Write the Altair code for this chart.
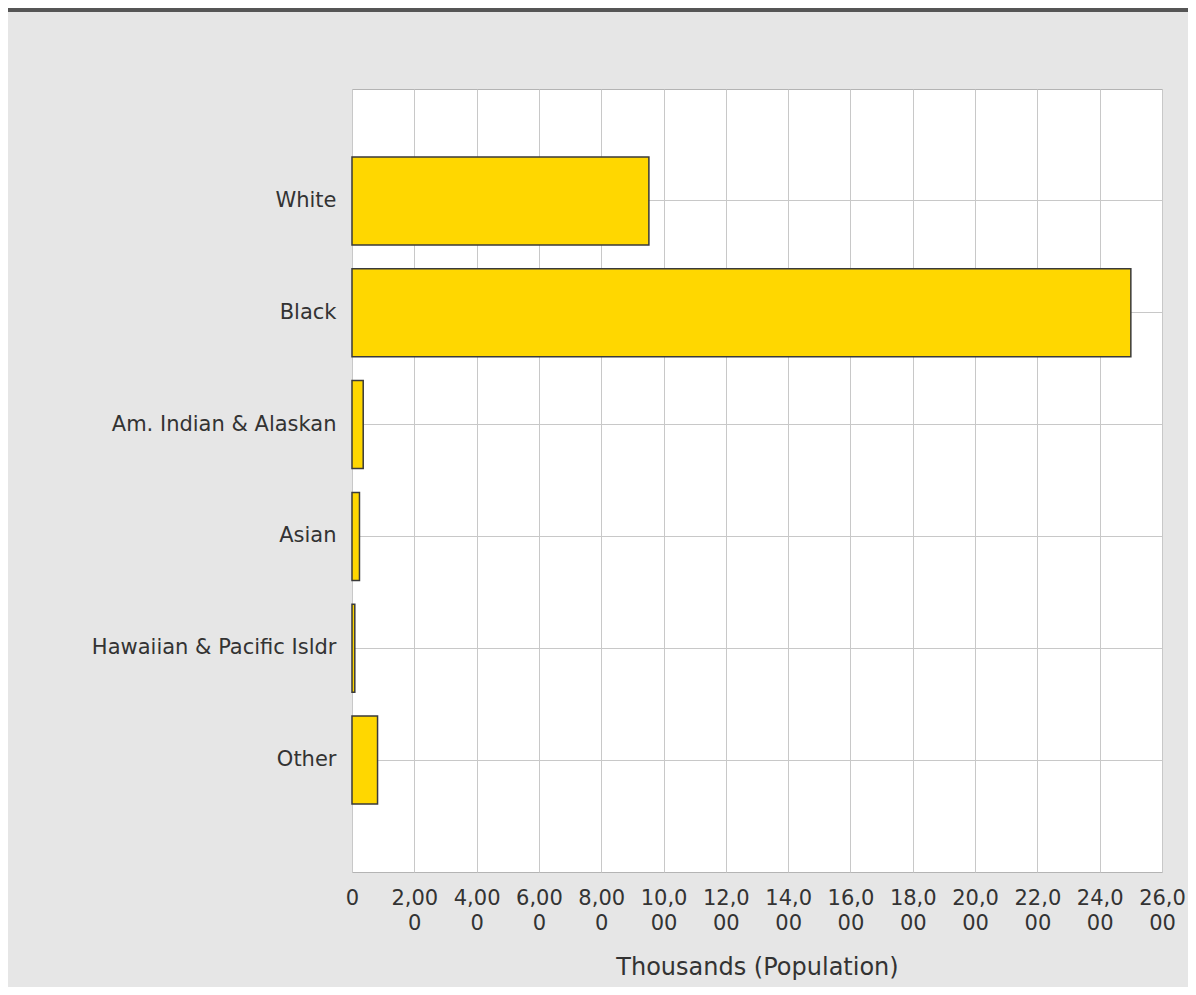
import altair as alt
import pandas as pd

categories = ["White", "Black", "Am. Indian & Alaskan", "Asian", "Hawaiian & Pacific Isldr", "Other"]
population = [9530, 25000, 360, 240, 90, 820]
x_ticks = list(range(0, 26001, 2000))

df = pd.DataFrame({"category": categories, "population": population})

FONT = "DejaVu Sans"

bars = alt.Chart(df).mark_bar(
    color="#FFD700", stroke="#3a3a3a", strokeWidth=1.5
).encode(
    x=alt.X(
        "population:Q",
        scale=alt.Scale(domain=[0, 26000], nice=False, zero=True),
        axis=alt.Axis(
            values=x_ticks,
            format=",d",
            labelExpr="[slice(datum.label, 0, 4), slice(datum.label, 4)]",
            labelLineHeight=25,
            labelFontSize=21,
            labelFont=FONT,
            labelColor="#333333",
            labelPadding=15,
            labelOverlap=False,
            labelFlush=False,
            ticks=False,
            domain=False,
            grid=True,
            gridColor="#c8c8c8",
            gridWidth=1,
            title="Thousands (Population)",
            titleFont=FONT,
            titleFontSize=24,
            titleFontWeight="normal",
            titleColor="#333333",
            titlePadding=22,
        ),
    ),
    y=alt.Y(
        "category:N",
        sort=categories,
        scale=alt.Scale(paddingInner=0.213, paddingOuter=0.607),
        axis=alt.Axis(
            title=None,
            labelFontSize=21,
            labelFont=FONT,
            labelColor="#333333",
            labelPadding=16,
            labelLimit=400,
            ticks=False,
            domain=False,
            grid=True,
            gridColor="#c8c8c8",
            gridWidth=1,
            bandPosition=0.5,
        ),
    ),
)

topline = alt.Chart(df).mark_rule(color="#555555", strokeWidth=3).encode(
    x=alt.value(-344), x2=alt.value(836), y=alt.value(-79)
)

chart = alt.layer(topline, bars).properties(
    width=810,
    height=783,
    autosize="none",
    padding={"left": 344, "top": 81, "right": 26, "bottom": 115},
    background="#e6e6e6",
).configure_view(
    fill="white", stroke="#b4b4b4", strokeWidth=1
)

chart.save("out.html", embed_options={"renderer": "svg", "actions": False})
